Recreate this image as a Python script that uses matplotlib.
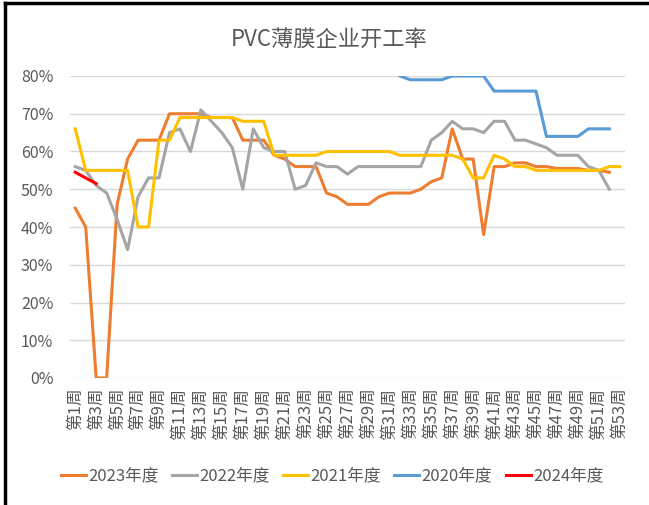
import matplotlib
matplotlib.use('Agg')
import matplotlib.pyplot as plt
from matplotlib.lines import Line2D
import numpy as np

plt.rcParams['font.family'] = ['Noto Sans CJK SC', 'DejaVu Sans']

# weekly operating rate (%)
weeks = list(range(1, 54))
week_labels = ['第%d周' % w for w in weeks]

rate_2023 = [45, 40, 0, 0, 46, 58, 63, 63, 63, 70,
             70, 70, 70, 69, 69, 69, 63, 63, 63, 59,
             58, 56, 56, 56, 49, 48, 46, 46, 46, 48,
             49, 49, 49, 50, 52, 53, 66, 58, 58, 38,
             56, 56, 57, 57, 56, 56, 55.5, 55.5, 55.5, 55,
             55, 54.5]
rate_2022 = [56, 55, 51, 49, 42, 34, 48, 53, 53, 65,
             66, 60, 71, 68, 65, 61, 50, 66, 61, 60,
             60, 50, 51, 57, 56, 56, 54, 56, 56, 56,
             56, 56, 56, 56, 63, 65, 68, 66, 66, 65,
             68, 68, 63, 63, 62, 61, 59, 59, 59, 56,
             55, 50]
rate_2021 = [66, 55, 55, 55, 55, 55, 40, 40, 63, 63,
             69, 69, 69, 69, 69, 69, 68, 68, 68, 59,
             59, 59, 59, 59, 60, 60, 60, 60, 60, 60,
             60, 59, 59, 59, 59, 59, 59, 58, 53, 53,
             59, 58, 56, 56, 55, 55, 55, 55, 55, 55,
             55, 56, 56]
# 2020 only visible from week 32 (above 80% before)
start_2020 = 32
rate_2020 = [80, 79, 79, 79, 79, 80, 80, 80, 80, 76,
             76, 76, 76, 76, 64, 64, 64, 64, 66, 66,
             66]
rate_2024 = [54.5, 53, 51.5]

series = [
    ('2023年度', 1, rate_2023, '#ED7D31'),
    ('2022年度', 1, rate_2022, '#A5A5A5'),
    ('2021年度', 1, rate_2021, '#FFC000'),
    ('2020年度', start_2020, rate_2020, '#5B9BD5'),
    ('2024年度', 1, rate_2024, '#FF0000'),
]

txt = '#595959'

fig = plt.figure(figsize=(6.49, 5.05), dpi=100)
ax = fig.add_axes([70/649, 1-378/505, 555/649, (378-76)/505])

for name, start, vals, color in series:
    x = np.arange(start, start + len(vals))
    y = np.array(vals) / 100.0
    ax.plot(x, y, color=color, lw=2.2, label=name, solid_joinstyle='round')

ax.set_xlim(0.5, 53.5)
ax.set_ylim(0, 0.8)
ax.set_yticks(np.arange(0, 0.81, 0.1))
ax.set_yticklabels(['%d%%' % round(v*100) for v in np.arange(0, 0.81, 0.1)],
                   fontsize=11.5, color=txt)
ax.set_xticks(weeks[::2])
ax.set_xticklabels(week_labels[::2], rotation=90, fontsize=12, color=txt,
                   va='top', ha='center')
ax.tick_params(length=0, pad=7)
ax.tick_params(axis='y', pad=12)
ax.grid(axis='y', color='#D9D9D9', lw=1)
ax.set_axisbelow(True)
for s in ax.spines.values():
    s.set_visible(False)

fig.text(329/649, 1-39/505, 'PVC薄膜企业开工率', ha='center', va='center',
         fontsize=16, color=txt)

fig.legend(loc='center', bbox_to_anchor=(332/649, 1-476/505), ncol=5,
           frameon=False, fontsize=12, labelcolor=txt, handlelength=1.5,
           handletextpad=0.15, columnspacing=0.8)

# outer frame (top and left edges visible in the reference)
fig.add_artist(Line2D([5/649, 5/649], [0, 1-3/505], color='black', lw=2.5))
fig.add_artist(Line2D([5/649, 1], [1-3/505, 1-3/505], color='black', lw=2.5))

fig.savefig('out.png', dpi=100)
